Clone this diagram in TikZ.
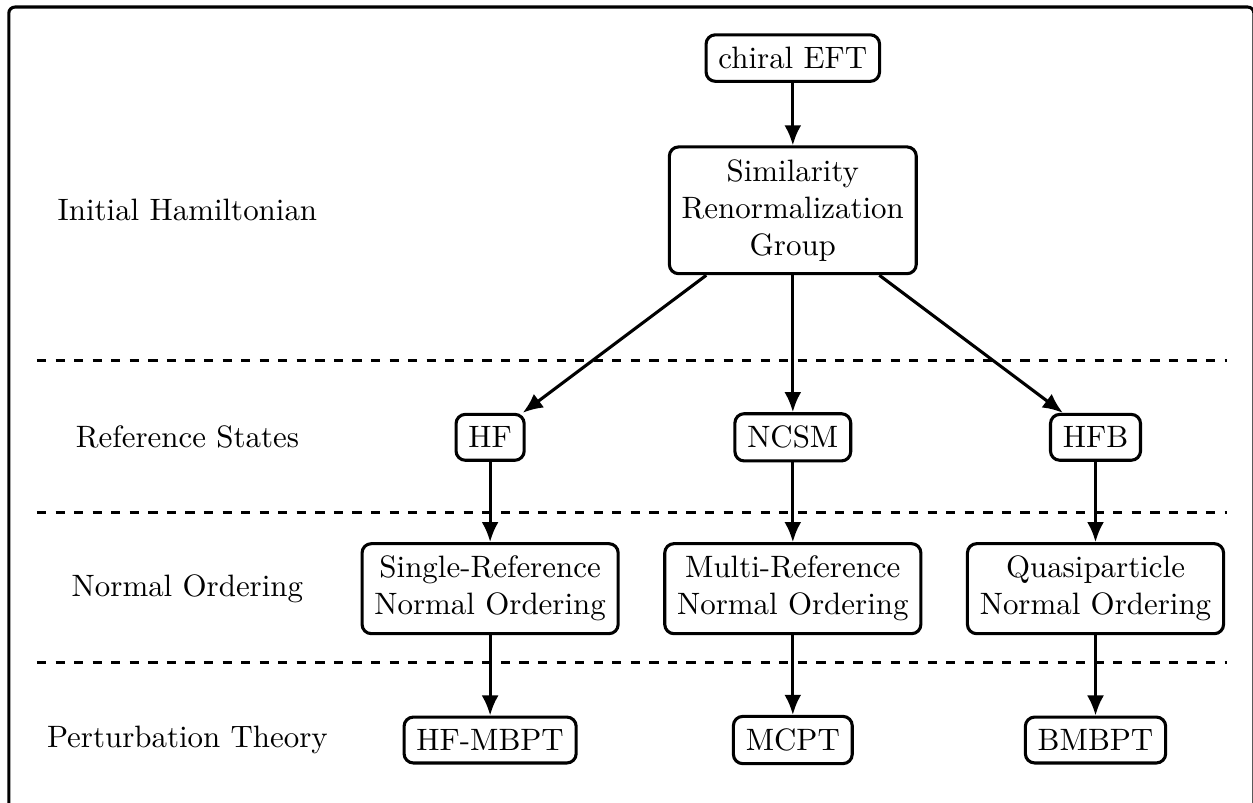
\documentclass[tikz,border=0pt]{standalone}
\usetikzlibrary{positioning, arrows.meta}

\tikzset{
    block/.style={draw, rounded corners=3pt, align=center, inner sep=4pt},
}

\begin{document}
\begin{tikzpicture}[line width=1pt, >={Latex[length=6.5pt,width=5.5pt]}, node distance=3.44cm, on grid]
    \clip (0,0) rectangle (14.24,-9.125);
    \draw[rounded corners=2pt] (0.1,-0.08) rectangle (14.25,-9.6);

    \node[block] (chiral) at (9.01,-0.66) {chiral EFT};
    \node[block] (srg) [below=1.73cm of chiral] {Similarity\\Renormalization\\Group};
    \node[block] (ncsm) [below=2.58cm of srg] {NCSM};
    \node[block] (hf) [left=of ncsm] {HF};
    \node[block] (hfb) [right=of ncsm] {HFB};
    \node[block] (srno) [below=1.72cm of hf] {Single-Reference\\Normal Ordering};
    \node[block] (mrno) [below=1.72cm of ncsm] {Multi-Reference\\Normal Ordering};
    \node[block] (qpno) [below=1.72cm of hfb] {Quasiparticle\hspace{5pt}\\Normal Ordering};
    \node[block] (hfmbpt) [below=1.72cm of srno] {HF-MBPT};
    \node[block] (mcpt) [below=1.72cm of mrno] {MCPT};
    \node[block] (bmbpt) [below=1.72cm of qpno] {BMBPT};

    % row labels
    \node (ham) [left=6.88cm of srg] {Initial Hamiltonian};
    \node (refs) [left=of hf] {Reference States};
    \node (order) [left=of srno] {Normal Ordering};
    \node (pert) [left=of hfmbpt] {Perturbation Theory};

    \foreach \y in {4.10, 5.82, 7.53}
        \draw[dashed] (0.42,-\y) -- (13.94,-\y);

    \path[->]
    (chiral) edge (srg)
    (srg) edge (hf)
    (srg) edge (ncsm)
    (srg) edge (hfb)
    (hf) edge (srno)
    (ncsm) edge (mrno)
    (hfb) edge (qpno)
    (srno) edge (hfmbpt)
    (mrno) edge (mcpt)
    (qpno) edge (bmbpt);
\end{tikzpicture}
\end{document}
